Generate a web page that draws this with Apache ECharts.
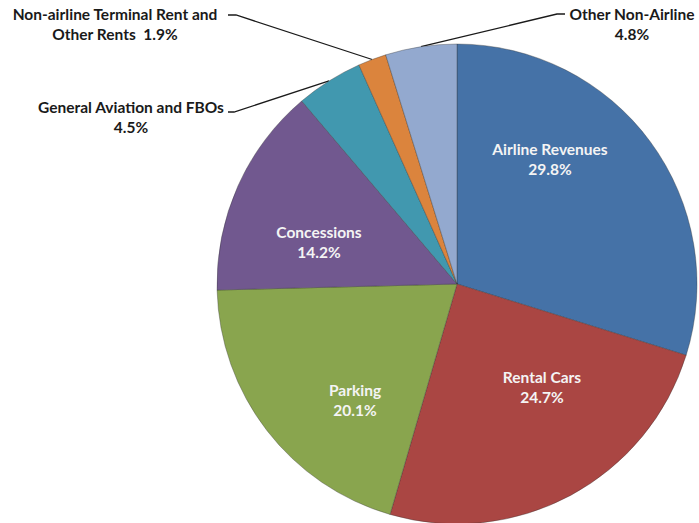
<!DOCTYPE html>
<html><head><meta charset="utf-8">
<script src="https://cdn.jsdelivr.net/npm/echarts@6/dist/echarts.min.js"></script>
<style>html,body{margin:0;padding:0;background:#fff}#c{width:699px;height:523px}</style>
</head><body><div id="c"></div>
<script>
// ---- data ----
const categories = ['Airline Revenues','Rental Cars','Parking','Concessions','General Aviation and FBOs','Non-airline Terminal Rent and Other Rents','Other Non-Airline'];
const values = [29.8, 24.7, 20.1, 14.2, 4.5, 1.9, 4.8];
const labelNames = ['Airline Revenues','Rental Cars','Parking','Concessions','General Aviation and FBOs','Non-airline Terminal Rent and\nOther Rents','Other Non-Airline'];
const labelSeparators = ['\n','\n','\n','\n','\n','  ','\n'];
const outsideLabel = [false,false,false,false,true,true,true];

// ---- layout / style ----
const colors = ['#4572A7','#AA4643','#89A54E','#71588F','#4198AF','#DB843D','#93A9CF'];
const CX = 457, CY = 284, R = 240;
// label centre offsets from pie centre (px)
const labelOffsets = [[93,-125],[85,103],[-102,116],[-138,-42],[-326,-167],[-342,-260],[175,-260]];
// leader line bend and end offsets from pie centre (px)
const leaderPts = [null,null,null,null,[[-223,-172],[-229,-172]],[[-221,-269],[-229,-269]],[[100,-270],[108,-270]]];

const total = values.reduce((a,b)=>a+b,0);
function midAngle(i){
  let before = 0; for (let k=0;k<i;k++) before += values[k];
  const a = 90 - (before + values[i]/2)/total*360;
  return a*Math.PI/180;
}

const chart = echarts.init(document.getElementById('c'), null, {renderer:'svg'});
chart.setOption({
  animation:false,
  color: colors,
  series:[{
    type:'pie',
    center:[CX, CY],
    radius:[0, R],
    startAngle:90,
    clockwise:true,
    avoidLabelOverlap:false,
    itemStyle:{borderColor:'rgba(50,50,50,0.45)', borderWidth:0.8},
    label:{fontFamily:'Lato', fontWeight:'bold', fontSize:15.5, lineHeight:20},
    labelLine:{show:true, lineStyle:{color:'#1a1a1a', width:1.3}},
    labelLayout:function(p){
      const i = p.dataIndex, o = labelOffsets[i];
      const res = {x:CX+o[0], y:CY+o[1], align:'center', verticalAlign:'middle'};
      if (leaderPts[i]) {
        const a = midAngle(i);
        res.labelLinePoints = [[CX+R*Math.cos(a), CY-R*Math.sin(a)],
          [CX+leaderPts[i][0][0], CY+leaderPts[i][0][1]],
          [CX+leaderPts[i][1][0], CY+leaderPts[i][1][1]]];
      }
      return res;
    },
    data: categories.map((c,i)=>({
      name:c, value:values[i],
      label:{
        position: outsideLabel[i] ? 'outside' : 'inside',
        color: outsideLabel[i] ? '#1a1a1a' : '#f4f4f4',
        align:'center',
        formatter: labelNames[i] + labelSeparators[i] + values[i].toFixed(1) + '%'
      },
      labelLine:{show: outsideLabel[i]}
    }))
  }]
});
</script></body></html>
